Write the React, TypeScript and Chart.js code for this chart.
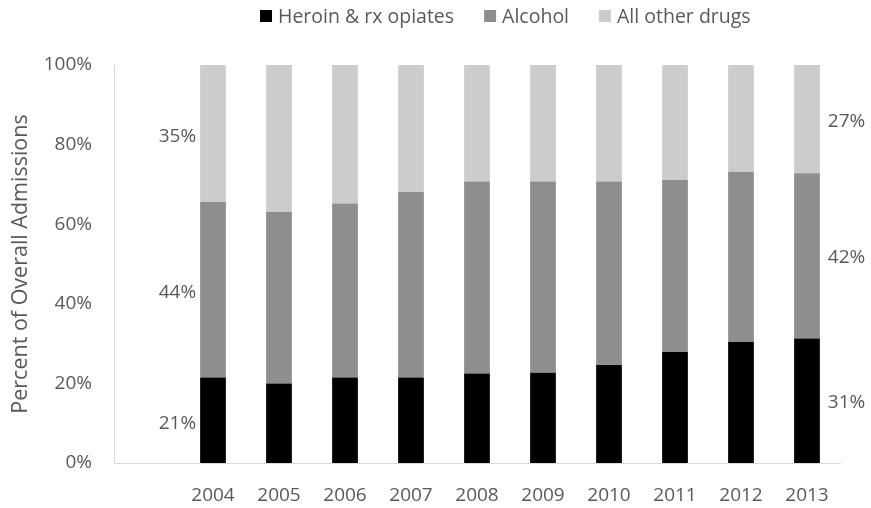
import React, { useEffect, useRef } from "react";
import { Chart, registerables } from "chart.js";

Chart.register(...registerables);

const years = ["", "2004", "2005", "2006", "2007", "2008", "2009", "2010", "2011", "2012", "2013"];
const heroin = [null, 21.5, 20.0, 21.5, 21.5, 22.5, 22.7, 24.6, 27.9, 30.4, 31.3];
const alcohol = [null, 44.1, 43.1, 43.7, 46.6, 48.2, 48.0, 46.1, 43.2, 42.8, 41.5];
const otherDrugs = [null, 34.4, 36.9, 34.8, 31.9, 29.3, 29.3, 29.3, 28.9, 26.8, 27.2];
const seriesNames = ["Heroin & rx opiates", "Alcohol", "All other drugs"];
const seriesColors = ["#000000", "#8e8e8e", "#cccccc"];
const firstYearLabels = ["21%", "44%", "35%"];
const lastYearLabels = ["31%", "42%", "27%"];
const yTicks = [0, 20, 40, 60, 80, 100];

const FONT = "'Open Sans', sans-serif";
const TEXT = "#595959";

const segmentLabels = {
  id: "segmentLabels",
  afterDatasetsDraw(chart: any) {
    const ctx = chart.ctx;
    ctx.save();
    ctx.font = `19px ${FONT}`;
    ctx.fillStyle = TEXT;
    ctx.textBaseline = "middle";
    const first = 1;
    const last = years.length - 1;
    chart.data.datasets.forEach((_: any, i: number) => {
      const meta = chart.getDatasetMeta(i);
      const a = meta.data[first];
      const b = meta.data[last];
      if (a) {
        ctx.textAlign = "right";
        ctx.fillText(firstYearLabels[i], a.x - a.width / 2 - 4, (a.y + a.base) / 2 + 3);
      }
      if (b) {
        ctx.textAlign = "left";
        ctx.fillText(lastYearLabels[i], b.x + b.width / 2 + 8, (b.y + b.base) / 2 + 2);
      }
    });
    ctx.restore();
  },
};

const customLegend = {
  id: "customLegend",
  afterDraw(chart: any) {
    const ctx = chart.ctx;
    ctx.save();
    ctx.font = `19.5px ${FONT}`;
    ctx.textBaseline = "middle";
    ctx.textAlign = "left";
    let x = 260;
    const cy = 16;
    seriesNames.forEach((name, i) => {
      ctx.fillStyle = seriesColors[i];
      ctx.fillRect(x, cy - 6, 12, 12);
      ctx.fillStyle = TEXT;
      ctx.fillText(name, x + 18, cy + 1);
      x += 18 + ctx.measureText(name).width + 30;
    });
    ctx.restore();
  },
};

export default function App() {
  const ref = useRef<HTMLCanvasElement>(null);
  useEffect(() => {
    document.body.style.margin = "0";
    const chart = new Chart(ref.current!, {
      type: "bar",
      data: {
        labels: years,
        datasets: [
          { label: seriesNames[0], data: heroin, backgroundColor: seriesColors[0] },
          { label: seriesNames[1], data: alcohol, backgroundColor: seriesColors[1] },
          { label: seriesNames[2], data: otherDrugs, backgroundColor: seriesColors[2] },
        ],
      },
      options: {
        animation: false,
        responsive: true,
        maintainAspectRatio: false,
        datasets: { bar: { barPercentage: 0.39, categoryPercentage: 1 } },
        layout: { padding: { top: 65, right: 31, left: 0, bottom: 0 } },
        plugins: { legend: { display: false }, tooltip: { enabled: false } },
        scales: {
          x: {
            stacked: true,
            grid: { display: false, drawTicks: false },
            border: { display: true, color: "#d9d9d9", width: 1 },
            ticks: { color: TEXT, font: { family: FONT, size: 19 }, padding: 21, maxRotation: 0, autoSkip: false },
            afterFit: (s: any) => { s.height = 45; },
          },
          y: {
            stacked: true,
            min: 0,
            max: 100,
            grid: { display: false, drawTicks: false },
            border: { display: true, color: "#d9d9d9", width: 1 },
            afterBuildTicks: (s: any) => { s.ticks = yTicks.map((v) => ({ value: v })); },
            ticks: { color: TEXT, font: { family: FONT, size: 19 }, padding: 22, callback: (v: any) => v + "%" },
            title: { display: true, text: "Percent of Overall Admissions", color: TEXT, font: { family: FONT, size: 21.5 }, padding: { top: 8, bottom: 0 } },
            afterFit: (s: any) => { s.width = 114; },
          },
        },
      },
      plugins: [segmentLabels, customLegend],
    });
    return () => chart.destroy();
  }, []);
  return (
    <div style={{ width: 871, height: 508, position: "relative" }}>
      <canvas ref={ref} />
    </div>
  );
}
